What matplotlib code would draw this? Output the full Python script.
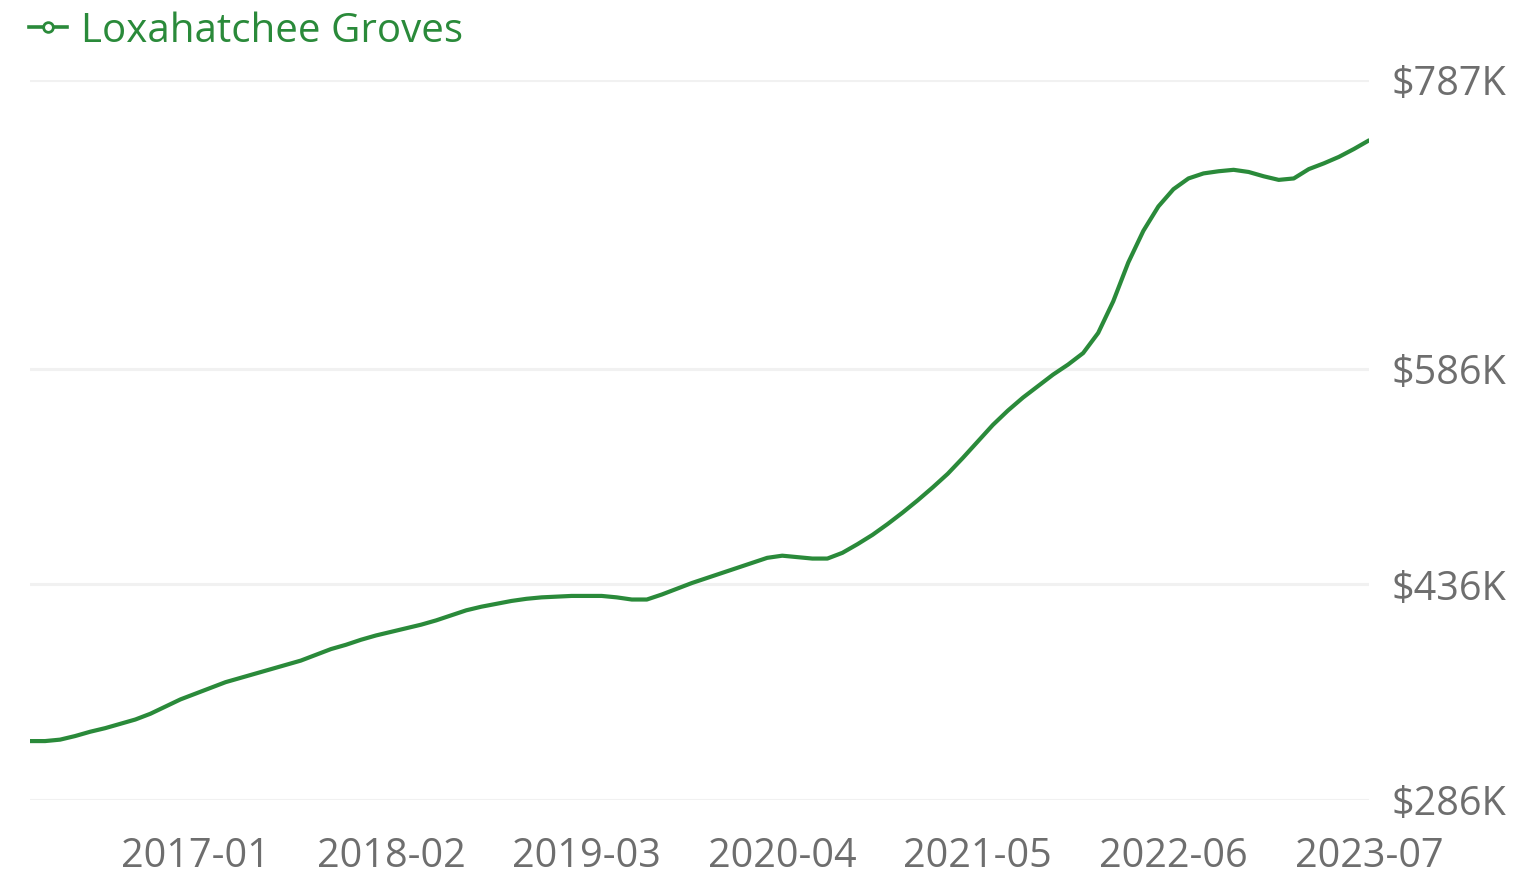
import matplotlib.pyplot as plt
import numpy as np
from matplotlib.lines import Line2D

# monthly median home value, 2016-02 .. 2023-07, in $K
START_YEAR, START_MONTH = 2016, 2
values = [
    327, 327, 328, 330.5, 333.5, 336, 339, 342, 346, 351,
    356, 360, 364, 368, 371, 374, 377, 380, 383, 387,
    391, 394, 397.5, 400.5, 403, 405.5, 408, 411, 414.5, 418,
    420.5, 422.5, 424.5, 426, 427, 427.5, 428, 428, 428, 427,
    425.5, 425.5, 429, 433, 437, 440.5, 444, 447.5, 451, 454.5,
    456, 455, 454, 454, 458, 464, 470.5, 478, 486, 494.5,
    503.5, 513, 524, 535.5, 547, 557, 566, 574, 582, 589,
    597, 611, 633, 660, 682, 699, 711, 718.5, 722, 723.5,
    724.5, 723, 720, 717.5, 718.5, 725, 729, 733.5, 739, 745,
]
y_ticks = [286, 436, 586, 787]
series_name = "Loxahatchee Groves"

GREEN = "#2a8a3a"
GREY = "#6e6e6e"
plt.rcParams['font.family'] = ['Open Sans', 'DejaVu Sans']


def month_label(i):
    m = START_MONTH - 1 + i
    return "{}-{:02d}".format(START_YEAR + m // 12, m % 12 + 1)


x = np.arange(len(values))
fig = plt.figure(figsize=(15.38, 8.96), dpi=100)
ax = fig.add_axes([30 / 1538, 1 - 800 / 896, 1339 / 1538, 720 / 896])

ax.plot(x, values, color=GREEN, linewidth=3.0,
        solid_capstyle='round', solid_joinstyle='round')

ax.set_xlim(0, len(values) - 1)
ax.set_ylim(y_ticks[0], y_ticks[-1])

# one label every 13 months, starting from 2017-01
xt = x[11::13]
ax.set_xticks(xt)
ax.set_xticklabels([month_label(i) for i in xt])
ax.set_yticks(y_ticks)
ax.set_yticklabels(["$" + str(v) + "K" for v in y_ticks])
ax.yaxis.tick_right()
ax.tick_params(axis='both', length=0, colors=GREY, labelsize=28.5)
ax.tick_params(axis='y', pad=16)
ax.tick_params(axis='x', pad=26)

ax.grid(axis='y', color='#f1f1f1', linewidth=2.2)
ax.set_axisbelow(True)
for s in ax.spines.values():
    s.set_visible(False)

handle = Line2D([], [], color=GREEN, linewidth=2.6, marker='o', markersize=7,
                markerfacecolor='white', markeredgecolor=GREEN, markeredgewidth=2)
fig.legend([handle], [series_name], loc='upper left', bbox_to_anchor=(29 / 1538, 1 - 11 / 896),
           frameon=False, fontsize=29, labelcolor=GREEN, handlelength=0.95,
           handletextpad=0.35, borderpad=0, borderaxespad=0)

fig.savefig("out.png", dpi=100, facecolor='white')
